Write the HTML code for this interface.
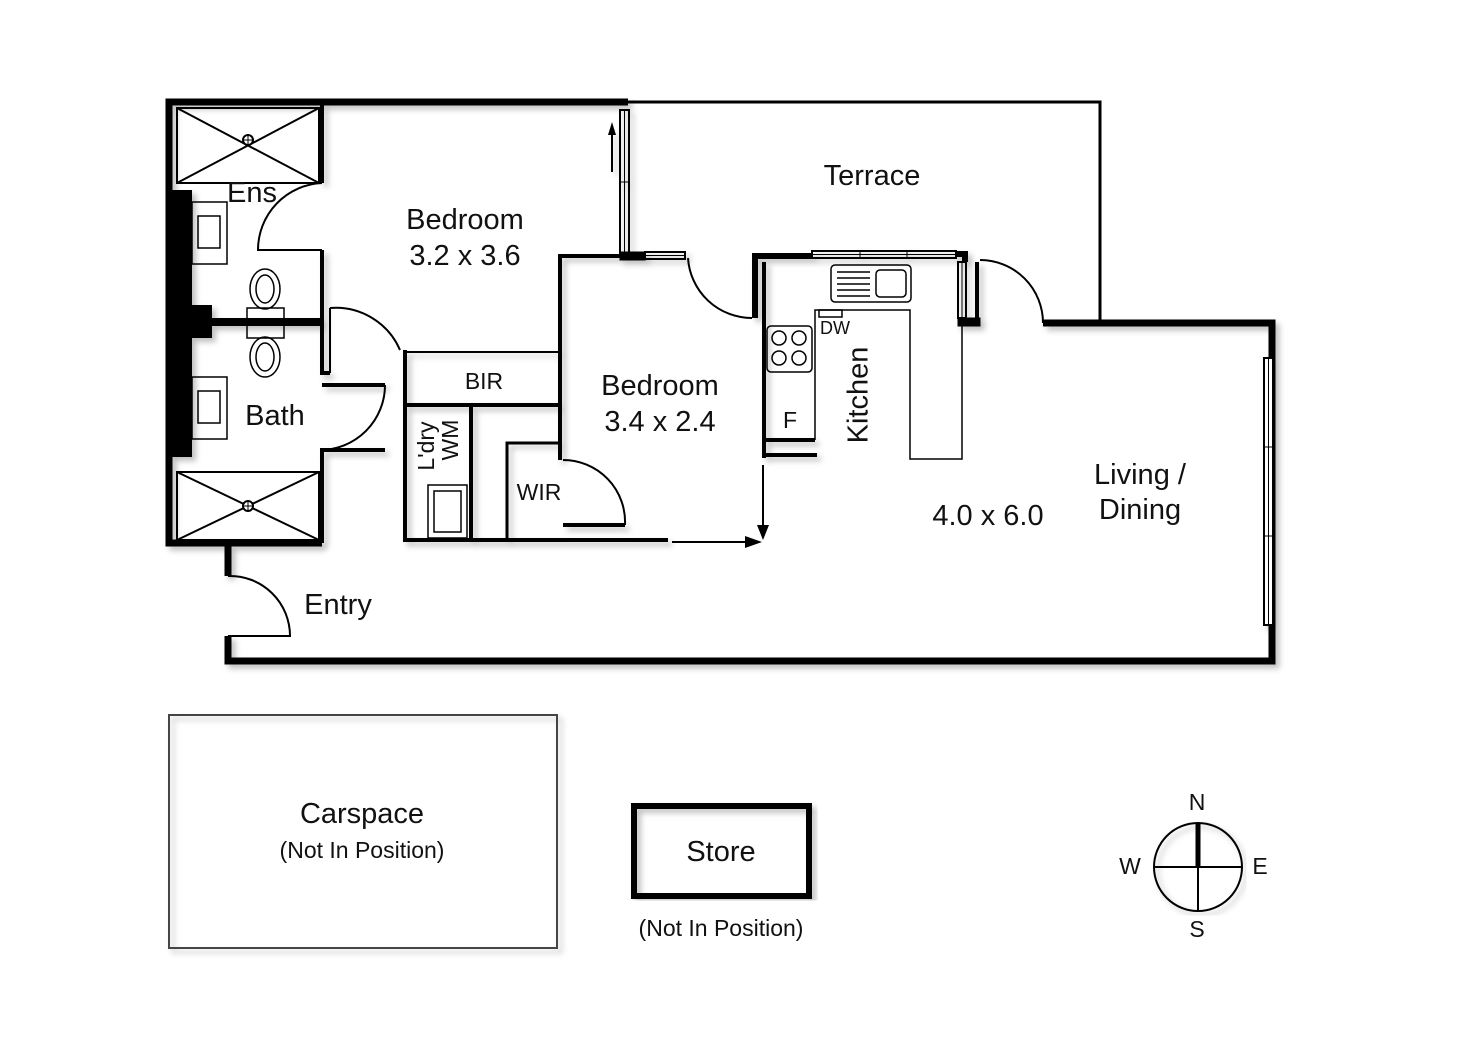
<!DOCTYPE html>
<html><head><meta charset="utf-8"><style>
html,body{margin:0;padding:0;background:#fff;}
svg{display:block;}
text{font-family:"Liberation Sans","DejaVu Sans",sans-serif;fill:#111;}
</style></head><body>
<svg width="1472" height="1041" viewBox="0 0 1472 1041" xmlns="http://www.w3.org/2000/svg">
<defs><filter id="sh" x="-5%" y="-5%" width="110%" height="110%"><feDropShadow dx="4" dy="4" stdDeviation="3" flood-color="#000" flood-opacity="0.25"/></filter></defs>
<g fill="none" stroke="#000">
<path d="M628 102 H1100 V322" stroke-width="3"/>
<g filter="url(#sh)">
<path d="M628 102 H169 V543 H322" stroke-width="7"/>
<path d="M228 543 V576 M228 636 V661 H1272 V323 H1043" stroke-width="7"/>
<rect x="172" y="190" width="20" height="267" fill="#000" stroke="none"/>
<rect x="190" y="305" width="22" height="33" fill="#000" stroke="none"/>
<path d="M192 322 H322" stroke-width="8"/>
<path d="M322 102 V183 M322 250 V373 H330 M322 385 H385 M385 450 H322 V543" stroke-width="4"/>
<rect x="620" y="110" width="9" height="146" stroke-width="2"/>
<line x1="624.5" y1="110" x2="624.5" y2="256" stroke-width="1"/>
<line x1="620" y1="182" x2="629" y2="182" stroke-width="1"/>
<path d="M612 172 V130" stroke-width="2"/>
<path d="M560 460 V256 H622" stroke-width="4"/>
<rect x="620" y="252" width="25" height="8" fill="#000"/>
<rect x="645" y="252" width="40" height="7" stroke-width="2"/>
<line x1="645" y1="255.5" x2="685" y2="255.5" stroke-width="1"/>
<path d="M755 318 V256 H812" stroke-width="6"/>
<rect x="812" y="251" width="144" height="7" stroke-width="2"/>
<line x1="812" y1="254.5" x2="956" y2="254.5" stroke-width="1"/>
<line x1="860" y1="251" x2="860" y2="258" stroke-width="1"/>
<line x1="907" y1="251" x2="907" y2="258" stroke-width="1"/>
<path d="M956 254 H965 V262" stroke-width="6"/>
<rect x="958" y="262" width="8" height="56" stroke-width="2"/>
<line x1="962" y1="262" x2="962" y2="318" stroke-width="1"/>
<rect x="958" y="318" width="22" height="8" fill="#000"/>
<path d="M977 262 V322" stroke-width="4"/>
<path d="M764 262 V458" stroke-width="4"/>
<path d="M764 440 H815 M764 455 H817" stroke-width="4"/>
<path d="M405 352 H558" stroke-width="2"/>
<path d="M405 350 V540 H668" stroke-width="4"/>
<path d="M405 405 H560" stroke-width="4"/>
<path d="M471 405 V540" stroke-width="4"/>
<path d="M507 540 V443 H558" stroke-width="3"/>
<path d="M563 525 H625" stroke-width="4"/>
<rect x="1264" y="358" width="9" height="267" stroke-width="2" fill="#fff"/>
<line x1="1268.5" y1="358" x2="1268.5" y2="625" stroke-width="1"/>
<line x1="1264" y1="447" x2="1273" y2="447" stroke-width="1"/>
<line x1="1264" y1="536" x2="1273" y2="536" stroke-width="1"/>
</g>
<g stroke-width="2">
<rect x="177" y="108" width="142" height="75"/>
<path d="M177 108 L319 183 M319 108 L177 183"/>
<circle cx="248" cy="140" r="5" fill="#fff"/><path d="M243 140 H253 M248 135 V145" stroke-width="1"/>
<rect x="177" y="472" width="142" height="68"/>
<path d="M177 472 L319 540 M319 472 L177 540"/>
<circle cx="248" cy="506" r="5" fill="#fff"/><path d="M243 506 H253 M248 501 V511" stroke-width="1"/>
</g>
<g stroke-width="1.5">
<rect x="192" y="202" width="35" height="62"/><rect x="198" y="216" width="22" height="32"/>
<rect x="192" y="377" width="35" height="62"/><rect x="198" y="391" width="22" height="32"/>
<ellipse cx="265" cy="289" rx="15" ry="20"/><ellipse cx="265" cy="289" rx="9" ry="14"/>
<rect x="247" y="308" width="37" height="30"/>
<ellipse cx="265" cy="357" rx="15" ry="20"/><ellipse cx="265" cy="357" rx="9" ry="14"/>
<rect x="428" y="485" width="39" height="53"/><rect x="434" y="491" width="27" height="41"/>
</g>
<g stroke-width="2">
<path d="M322 183 A67 67 0 0 0 258 250 H322"/>
<path d="M330 308 V373 M330 308 A70 70 0 0 1 400 350"/>
<path d="M385 385 A65 65 0 0 1 320 450"/>
<path d="M228 576 A60 60 0 0 1 290 636 H228"/>
<path d="M563 460 A62 62 0 0 1 625 525"/>
<path d="M688 258 A64 64 0 0 0 752 318"/>
<path d="M980 260 A63 63 0 0 1 1043 323"/>
</g>
<g stroke-width="1.5">
<rect x="831" y="265" width="80" height="37" rx="4"/>
<rect x="876" y="270" width="30" height="27" rx="4"/>
<path d="M837 272 H870 M837 278 H870 M837 284 H870 M837 290 H870 M837 296 H870"/>
<rect x="767" y="326" width="45" height="46" rx="4"/>
<circle cx="779" cy="338" r="7"/><circle cx="799" cy="338" r="7"/><circle cx="779" cy="358" r="7"/><circle cx="799" cy="358" r="7"/>
<path d="M815 440 V310 H910 V459 H962 V325"/>
<rect x="819" y="310" width="23" height="7"/>
</g>
<g stroke-width="2">
<path d="M763 465 V528"/><path d="M672 542 H748"/>
</g>
<path d="M757 525 L763 540 L769 525 Z M745 536 L762 542 L745 548 Z M608 135 L612 122 L616 135 Z" fill="#000" stroke="none"/>
<rect x="169" y="715" width="388" height="233" stroke="#444" stroke-width="2" filter="url(#sh)"/>
<rect x="634" y="806" width="175" height="90" stroke-width="6" filter="url(#sh)"/>
<circle cx="1198" cy="867" r="44" stroke-width="2" filter="url(#sh)"/>
<path d="M1154 867 H1242 M1198 867 V911" stroke-width="2"/>
<path d="M1198 823 V867" stroke-width="5"/>
</g>
<g font-size="29" text-anchor="middle">
<text x="872" y="185">Terrace</text>
<text x="465" y="229">Bedroom</text><text x="465" y="265">3.2 x 3.6</text>
<text x="252" y="202" text-anchor="middle">Ens</text>
<text x="275" y="425">Bath</text>
<text x="660" y="395">Bedroom</text><text x="660" y="431">3.4 x 2.4</text>
<text x="1140" y="484">Living /</text><text x="1140" y="519">Dining</text>
<text x="988" y="525">4.0 x 6.0</text>
<text x="338" y="614">Entry</text>
<text x="362" y="823">Carspace</text>
<text x="721" y="861">Store</text>
<text x="860" y="395" transform="rotate(-90 860 395)" dominant-baseline="middle">Kitchen</text>
</g>
<g font-size="23" text-anchor="middle">
<text x="484" y="389">BIR</text>
<text x="539" y="500">WIR</text>
<text x="790" y="428">F</text>
<text x="362" y="858">(Not In Position)</text>
<text x="721" y="936">(Not In Position)</text>
<text x="1197" y="810">N</text>
<text x="1130" y="874">W</text>
<text x="1260" y="874">E</text>
<text x="1197" y="937">S</text>
<text x="428" y="446" transform="rotate(-90 428 446)" dominant-baseline="middle">L'dry</text>
<text x="452" y="440" transform="rotate(-90 452 440)" dominant-baseline="middle">WM</text>
</g>
<text x="835" y="334" font-size="18" text-anchor="middle">DW</text>
</svg>
</body></html>
